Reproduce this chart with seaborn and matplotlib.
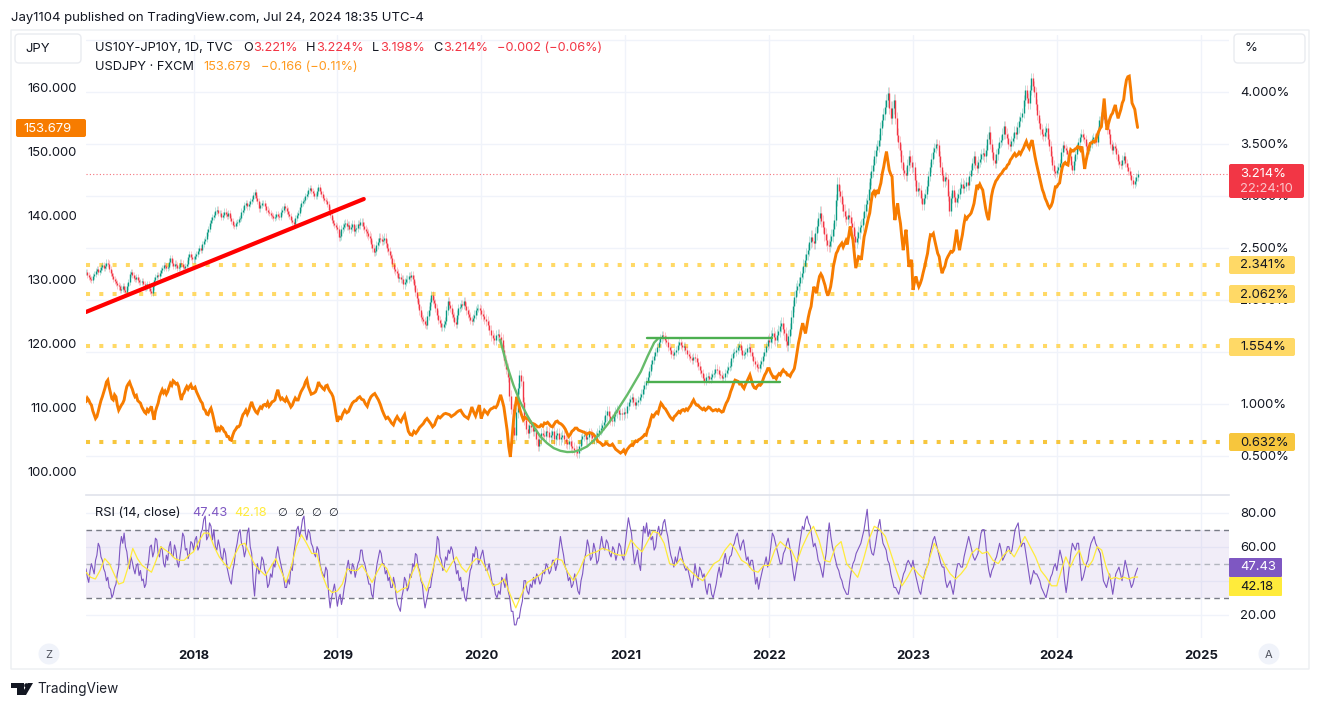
import pandas as pd
import seaborn as sns
import matplotlib.pyplot as plt
from matplotlib.patches import FancyBboxPatch, Circle, Polygon
from matplotlib.transforms import IdentityTransform

# values, one list per calendar year
year_edges = ['2017-04-03', '2018-01-01', '2019-01-01', '2020-01-01', '2021-01-01',
              '2022-01-01', '2023-01-01', '2024-01-01', '2024-07-24']

spread_2017 = [2.27, 2.24, 2.22, 2.20, 2.19, 2.23, 2.25, 2.28, 2.30, 2.27, 2.29, 2.32, 2.34, 2.31, 2.33, 2.36, 2.35, 2.30, 2.26, 2.23,
               2.20, 2.18, 2.16, 2.14, 2.13, 2.10, 2.11, 2.13, 2.10, 2.08, 2.13, 2.17, 2.25, 2.27, 2.24, 2.21, 2.20, 2.22, 2.19, 2.17,
               2.17, 2.18, 2.15, 2.12, 2.13, 2.15, 2.12, 2.09, 2.07, 2.13, 2.19, 2.22, 2.24, 2.23, 2.26, 2.29, 2.31, 2.34, 2.33, 2.31,
               2.32, 2.37, 2.40, 2.36, 2.33, 2.35, 2.34, 2.31, 2.32, 2.36, 2.35, 2.32, 2.31, 2.33, 2.35, 2.41, 2.44, 2.41, 2.39]
spread_2018 = [2.39, 2.42, 2.44, 2.47, 2.50, 2.48, 2.54, 2.57, 2.59, 2.65, 2.68, 2.74, 2.77, 2.80, 2.82, 2.86, 2.87, 2.84, 2.84, 2.80,
               2.82, 2.85, 2.83, 2.81, 2.84, 2.79, 2.76, 2.72, 2.71, 2.74, 2.75, 2.78, 2.79, 2.85, 2.87, 2.91, 2.93, 2.90, 2.92, 2.95,
               2.97, 3.01, 3.04, 2.98, 2.95, 2.88, 2.91, 2.93, 2.93, 2.90, 2.87, 2.85, 2.84, 2.82, 2.81, 2.79, 2.80, 2.83, 2.81, 2.80,
               2.85, 2.87, 2.90, 2.88, 2.86, 2.83, 2.81, 2.77, 2.75, 2.73, 2.79, 2.82, 2.84, 2.89, 2.93, 2.95, 2.96, 3.00, 3.02, 3.06,
               3.08, 3.05, 3.03, 3.00, 3.00, 3.05, 3.09, 3.05, 3.02, 2.98, 2.96, 2.95, 2.92, 2.87, 2.82, 2.77, 2.74, 2.72, 2.70]
spread_2019 = [2.68, 2.61, 2.62, 2.68, 2.70, 2.73, 2.74, 2.71, 2.72, 2.68, 2.70, 2.73, 2.66, 2.68, 2.69, 2.73, 2.72, 2.75, 2.75, 2.71,
               2.68, 2.66, 2.64, 2.62, 2.60, 2.54, 2.50, 2.46, 2.47, 2.53, 2.56, 2.60, 2.59, 2.57, 2.58, 2.60, 2.55, 2.50, 2.47, 2.43,
               2.40, 2.35, 2.30, 2.28, 2.26, 2.21, 2.22, 2.20, 2.20, 2.15, 2.17, 2.20, 2.20, 2.23, 2.22, 2.24, 2.20, 2.14, 2.08, 2.02,
               1.96, 1.90, 1.84, 1.82, 1.80, 1.77, 1.76, 1.85, 1.90, 1.98, 2.05, 2.00, 1.97, 1.92, 1.86, 1.81, 1.78, 1.74, 1.74, 1.77,
               1.80, 1.90, 1.99, 1.95, 1.92, 1.87, 1.84, 1.79, 1.77, 1.86, 1.92, 1.93, 1.96, 1.95, 1.99, 1.94, 1.90, 1.87, 1.84, 1.81,
               1.80, 1.83, 1.86, 1.90, 1.92, 1.92, 1.90]
spread_2020 = [1.87, 1.85, 1.82, 1.80, 1.76, 1.71, 1.66, 1.63, 1.62, 1.66, 1.67, 1.64, 1.62, 1.52, 1.42, 1.34, 1.26, 1.08, 0.95, 0.78,
               0.70, 0.92, 1.15, 1.28, 1.22, 1.02, 0.85, 0.76, 0.72, 0.80, 0.78, 0.74, 0.76, 0.66, 0.60, 0.66, 0.72, 0.70, 0.69, 0.74,
               0.73, 0.68, 0.70, 0.74, 0.66, 0.70, 0.72, 0.66, 0.68, 0.70, 0.66, 0.63, 0.62, 0.64, 0.60, 0.58, 0.56, 0.55, 0.53, 0.60,
               0.66, 0.69, 0.70, 0.66, 0.68, 0.72, 0.70, 0.67, 0.67, 0.69, 0.72, 0.75, 0.77, 0.80, 0.83, 0.89, 0.93, 0.88, 0.85, 0.84,
               0.88, 0.92, 0.94, 0.90, 0.91, 0.90, 0.92]
spread_2021 = [0.91, 0.98, 1.02, 1.05, 1.07, 1.02, 0.99, 1.02, 1.04, 1.07, 1.10, 1.14, 1.18, 1.22, 1.26, 1.32, 1.38, 1.42, 1.46, 1.50,
               1.55, 1.60, 1.63, 1.66, 1.65, 1.62, 1.60, 1.55, 1.52, 1.48, 1.47, 1.50, 1.52, 1.57, 1.60, 1.57, 1.55, 1.56, 1.52, 1.48,
               1.46, 1.44, 1.42, 1.45, 1.44, 1.40, 1.37, 1.33, 1.30, 1.25, 1.22, 1.26, 1.27, 1.24, 1.26, 1.29, 1.30, 1.34, 1.33, 1.29,
               1.28, 1.25, 1.26, 1.30, 1.33, 1.36, 1.37, 1.44, 1.49, 1.50, 1.52, 1.55, 1.57, 1.52, 1.47, 1.48, 1.50, 1.54, 1.55, 1.50,
               1.46, 1.41, 1.38, 1.36, 1.35, 1.38, 1.41, 1.46, 1.50, 1.56, 1.62]
spread_2022 = [1.60, 1.65, 1.68, 1.64, 1.62, 1.66, 1.70, 1.75, 1.78, 1.72, 1.68, 1.61, 1.57, 1.65, 1.72, 1.84, 1.94, 2.03, 2.10, 2.13,
               2.16, 2.22, 2.26, 2.33, 2.38, 2.44, 2.48, 2.56, 2.61, 2.57, 2.55, 2.64, 2.71, 2.79, 2.84, 2.76, 2.70, 2.63, 2.58, 2.53,
               2.52, 2.57, 2.62, 2.68, 2.77, 2.96, 3.12, 3.05, 3.00, 2.92, 2.86, 2.81, 2.78, 2.82, 2.80, 2.74, 2.70, 2.62, 2.56, 2.60,
               2.65, 2.70, 2.72, 2.79, 2.86, 2.92, 2.96, 3.07, 3.17, 3.24, 3.30, 3.38, 3.44, 3.48, 3.54, 3.65, 3.73, 3.79, 3.86, 3.92,
               3.99, 3.85, 3.75, 3.85, 3.92, 3.75, 3.59, 3.52, 3.44, 3.33, 3.25, 3.22, 3.20, 3.30, 3.38, 3.33, 3.28]
spread_2023 = [3.28, 3.15, 3.05, 3.08, 3.06, 2.98, 2.92, 2.98, 3.02, 3.10, 3.19, 3.28, 3.36, 3.42, 3.46, 3.50, 3.49, 3.38, 3.28, 3.20,
               3.14, 3.18, 3.16, 3.00, 2.86, 2.98, 3.06, 2.99, 2.94, 2.98, 3.02, 3.08, 3.12, 3.08, 3.10, 3.13, 3.11, 3.19, 3.25, 3.32,
               3.38, 3.30, 3.27, 3.33, 3.36, 3.40, 3.41, 3.38, 3.44, 3.55, 3.62, 3.50, 3.42, 3.35, 3.32, 3.40, 3.46, 3.52, 3.54, 3.60,
               3.67, 3.60, 3.56, 3.50, 3.48, 3.53, 3.56, 3.62, 3.60, 3.66, 3.72, 3.76, 3.80, 3.92, 4.02, 3.94, 3.89, 4.02, 4.13, 4.06,
               4.00, 3.88, 3.78, 3.70, 3.64, 3.60, 3.58, 3.62, 3.65, 3.55, 3.48, 3.38, 3.30, 3.24, 3.22]
spread_2024 = [3.25, 3.28, 3.32, 3.42, 3.49, 3.46, 3.44, 3.40, 3.38, 3.30, 3.25, 3.34, 3.40, 3.47, 3.52, 3.57, 3.60, 3.57, 3.55, 3.48,
               3.44, 3.47, 3.50, 3.55, 3.57, 3.54, 3.52, 3.63, 3.73, 3.77, 3.80, 3.74, 3.70, 3.64, 3.60, 3.50, 3.44, 3.48, 3.46, 3.40,
               3.34, 3.31, 3.30, 3.35, 3.38, 3.32, 3.28, 3.24, 3.20, 3.15, 3.12, 3.14, 3.18, 3.214]
spread_wick = [0.03, 0.03, 0.04, 0.05, 0.04, 0.06, 0.05, 0.04]

usdjpy_2017 = [110.8, 111.4, 111.1, 110.6, 110.3, 109.4, 108.8, 108.2, 108.5, 109.3, 110.2, 111.0, 111.6, 112.3, 113.0, 113.9, 114.2, 113.1, 112.2, 111.3,
               111.1, 111.9, 111.6, 110.3, 109.5, 109.9, 110.3, 110.6, 111.1, 112.3, 113.2, 113.6, 113.9, 113.3, 112.8, 112.1, 111.6, 111.8, 111.0, 110.8,
               110.6, 110.0, 109.6, 109.2, 109.0, 109.6, 109.3, 109.7, 110.1, 109.0, 108.0, 109.3, 110.0, 110.6, 111.6, 112.2, 112.7, 112.2, 112.5, 112.0,
               112.4, 113.1, 113.7, 113.4, 114.1, 113.9, 113.6, 113.7, 113.2, 112.0, 111.1, 111.9, 112.2, 112.8, 113.2, 112.8, 113.2, 113.5, 112.9]
usdjpy_2018 = [112.9, 113.1, 112.4, 111.9, 111.4, 110.9, 110.6, 109.7, 109.5, 108.9, 108.8, 109.4, 109.8, 109.0, 108.0, 106.9, 106.1, 106.7, 106.4, 106.9,
               106.7, 106.2, 106.0, 105.4, 105.4, 104.9, 104.8, 105.6, 106.2, 106.5, 106.9, 106.9, 107.2, 108.1, 108.8, 109.1, 109.5, 108.9, 109.4, 110.2,
               110.8, 110.1, 109.6, 109.2, 109.0, 109.6, 110.0, 109.8, 110.3, 110.4, 110.2, 110.7, 110.1, 110.4, 110.8, 110.9, 111.1, 112.0, 112.7, 111.8,
               111.2, 111.4, 111.1, 110.9, 111.4, 110.9, 110.5, 110.0, 110.3, 110.9, 111.4, 111.1, 111.1, 111.8, 112.4, 112.8, 113.2, 113.9, 114.3, 113.2,
               112.6, 112.0, 112.1, 112.2, 112.4, 113.0, 113.9, 113.4, 113.2, 112.9, 112.7, 113.3, 113.4, 112.8, 112.4, 112.1, 111.6, 110.5, 109.0]
usdjpy_2019 = [107.7, 108.4, 108.2, 109.0, 109.5, 109.1, 109.3, 110.0, 110.6, 110.9, 111.0, 111.4, 111.6, 111.2, 111.1, 110.5, 110.1, 111.0, 111.6, 111.9,
               112.1, 111.6, 111.1, 110.4, 109.5, 108.8, 108.2, 108.4, 108.0, 107.5, 107.2, 108.0, 108.5, 108.0, 107.7, 108.3, 108.8, 107.5, 106.2, 105.7,
               105.6, 106.2, 105.9, 106.3, 106.8, 107.1, 107.4, 107.9, 108.2, 107.8, 107.4, 106.9, 107.2, 108.0, 108.5, 108.3, 108.6, 108.9, 109.0, 108.9,
               108.8, 108.5, 108.7, 108.9, 109.2, 109.4, 109.5, 109.0, 108.6, 108.4, 108.2, 109.0, 110.0, 109.2, 108.6, 109.5, 110.3]
usdjpy_2020 = [108.2, 108.9, 109.5, 109.2, 108.9, 109.4, 109.7, 109.8, 110.0, 109.9, 110.3, 111.1, 111.9, 111.0, 110.0, 108.2, 106.4, 103.8, 102.2, 105.0,
               108.0, 110.0, 111.6, 110.6, 109.5, 108.7, 108.0, 108.4, 108.2, 108.1, 107.8, 107.5, 107.4, 107.3, 107.1, 106.9, 106.9, 107.2, 107.0, 107.5,
               107.4, 107.6, 107.3, 107.0, 106.9, 107.3, 107.7, 107.8, 107.5, 107.4, 107.2, 106.9, 106.5, 105.9, 105.4, 105.7, 106.2, 106.4, 106.7, 106.7,
               106.4, 106.3, 106.2, 106.1, 106.0, 105.7, 105.9, 106.0, 105.9, 105.8, 105.5, 105.2, 104.6, 104.5, 104.3, 104.0, 104.1, 104.4, 104.2, 104.0,
               104.0, 104.2, 103.8, 103.4, 103.2, 103.0, 102.8, 103.0, 103.3]
usdjpy_2021 = [102.8, 103.3, 103.6, 103.9, 104.1, 104.0, 104.4, 104.7, 104.6, 104.9, 105.0, 105.2, 105.4, 105.7, 105.6, 106.5, 107.0, 108.0, 108.7, 108.5,
               108.9, 109.2, 109.0, 109.9, 110.6, 110.3, 109.9, 109.7, 109.3, 108.9, 108.5, 108.2, 108.0, 108.5, 108.7, 109.0, 109.3, 109.1, 109.5, 109.6,
               109.4, 109.7, 109.5, 109.9, 110.2, 110.7, 111.1, 110.6, 110.3, 110.3, 110.0, 109.8, 109.6, 109.8, 109.5, 109.7, 110.0, 109.9, 109.6, 109.4,
               109.5, 109.6, 109.4, 109.6, 109.4, 109.2, 109.3, 110.0, 110.6, 111.0, 111.6, 112.4, 113.0, 113.7, 114.2, 114.1, 114.0, 113.6, 113.7, 113.2,
               112.9, 113.5, 114.0, 114.5, 115.0, 114.2, 113.4, 113.0, 112.9, 113.3, 113.5, 113.4, 113.7, 114.4, 115.0, 115.4, 116.0]
usdjpy_2022 = [116.0, 115.4, 115.0, 114.6, 114.7, 114.4, 114.9, 115.2, 115.0, 115.5, 115.8, 115.5, 115.4, 115.0, 115.0, 114.8, 115.3, 115.6, 116.0, 117.2,
               118.6, 120.0, 121.0, 122.2, 123.1, 122.2, 121.5, 122.8, 124.0, 125.0, 125.7, 127.4, 128.8, 128.2, 127.8, 129.3, 130.4, 130.8, 130.4, 129.7,
               129.0, 128.0, 127.4, 128.0, 128.8, 130.2, 132.0, 133.0, 134.0, 134.4, 135.0, 135.3, 135.6, 135.0, 135.5, 136.0, 135.4, 136.8, 138.2, 137.0,
               136.1, 133.9, 131.7, 132.6, 133.5, 133.4, 133.0, 134.8, 136.6, 137.5, 138.5, 139.5, 140.3, 142.0, 143.4, 143.7, 143.2, 143.9, 143.3, 144.2,
               145.0, 146.5, 147.5, 148.8, 149.9, 148.4, 147.0, 146.4, 146.0, 142.0, 139.2, 140.6, 141.8, 140.0, 138.7, 136.5, 134.5, 136.2, 137.7, 135.0,
               131.9, 132.5, 133.0]
usdjpy_2023 = [128.3, 129.5, 130.4, 129.5, 128.8, 129.3, 130.0, 131.0, 131.9, 133.0, 134.0, 135.7, 136.9, 136.8, 137.1, 136.0, 135.0, 134.0, 133.5, 132.0,
               130.9, 131.5, 132.0, 133.0, 133.5, 133.9, 134.3, 134.2, 134.5, 136.0, 137.7, 135.8, 134.5, 135.8, 136.9, 138.5, 139.7, 139.4, 139.8, 140.0,
               140.3, 141.0, 141.8, 143.2, 144.7, 144.3, 144.8, 144.3, 143.9, 142.5, 141.0, 139.9, 139.2, 141.0, 142.9, 144.0, 144.7, 145.3, 145.6, 146.0,
               146.3, 146.5, 146.9, 147.2, 147.3, 147.8, 148.0, 148.6, 148.9, 149.3, 149.6, 149.2, 149.4, 149.8, 149.5, 150.0, 150.4, 151.0, 151.5, 150.8,
               150.4, 151.2, 151.7, 150.4, 149.1, 148.0, 147.0, 146.0, 145.0, 144.0, 143.4, 142.6, 142.1, 141.5, 141.1, 141.4, 142.0, 143.2, 144.4]
usdjpy_2024 = [144.4, 144.8, 145.0, 146.4, 147.5, 148.0, 148.2, 147.9, 147.8, 149.2, 150.2, 150.0, 150.0, 150.3, 150.4, 150.7, 150.6, 150.2, 150.7, 149.0,
               147.2, 148.5, 149.5, 150.5, 151.2, 151.3, 151.5, 151.4, 151.7, 152.5, 153.0, 153.5, 153.8, 156.0, 158.2, 155.5, 153.3, 154.2, 155.0, 155.6,
               155.9, 156.6, 157.2, 156.0, 155.1, 155.8, 156.5, 157.5, 158.0, 159.8, 161.1, 161.6, 161.7, 159.8, 157.5, 157.0, 156.5, 155.0, 153.679]

rsi_2017 = [47, 42, 39, 46, 50, 47, 44, 52, 55, 62, 60, 54, 52, 47, 45, 40, 42, 36, 35, 30, 32, 36, 38, 44, 48, 60, 66, 62, 68, 60, 57, 50, 47, 54, 51, 47, 44, 49, 50, 43,
            46, 40, 41, 36, 38, 47, 52, 60, 61, 54, 57, 65, 64, 56, 54, 60, 58, 50, 48, 55, 52, 60, 63, 55, 54, 61, 58, 51, 48, 54, 60, 68, 66, 58, 59, 53, 56, 63, 62]
rsi_2018 = [58, 64, 66, 58, 60, 68, 70, 76, 78, 64, 66, 74, 72, 64, 70, 60, 58, 64, 60, 54, 52, 59, 56, 48, 44, 40, 38, 46, 50, 58, 62, 68, 70, 62, 60, 54, 58, 68, 71, 60,
            56, 40, 31, 44, 50, 44, 47, 54, 52, 46, 44, 36, 38, 44, 42, 50, 48, 56, 60, 54, 50, 46, 42, 36, 36, 41, 38, 48, 46, 56, 62, 70, 72, 66, 70, 76, 78, 68, 64, 70,
            68, 62, 60, 56, 54, 60, 58, 50, 46, 44, 42, 48, 46, 32, 24, 30, 34, 38, 32]
rsi_2019 = [25, 30, 32, 26, 30, 36, 40, 48, 52, 46, 44, 50, 48, 42, 46, 50, 52, 58, 58, 52, 50, 46, 42, 38, 38, 32, 30, 38, 44, 50, 54, 58, 56, 50, 50, 44, 46, 40, 42, 36,
            36, 42, 38, 30, 26, 24, 22, 30, 34, 42, 40, 34, 36, 44, 42, 50, 48, 56, 55, 48, 46, 40, 38, 30, 24, 28, 32, 36, 36, 42, 46, 52, 56, 66, 64, 54, 52, 46, 48, 54,
            52, 58, 56, 60, 58, 52, 50, 44, 46, 40, 42, 34, 36, 30, 28, 34, 40, 46, 48, 56, 54, 60, 58, 50, 52]
rsi_2020 = [55, 58, 52, 46, 46, 50, 44, 38, 38, 32, 30, 34, 32, 42, 40, 36, 44, 34, 30, 22, 22, 14, 14, 18, 18, 24, 28, 40, 40, 34, 32, 38, 36, 42, 38, 44, 42, 38, 40, 46,
            44, 50, 48, 44, 46, 52, 52, 46, 50, 58, 66, 60, 55, 48, 46, 40, 42, 36, 38, 44, 40, 34, 32, 40, 44, 52, 56, 64, 60, 52, 54, 62, 58, 50, 52, 60, 66, 60, 58, 64,
            62, 56, 54, 60, 58, 52, 56, 62, 60, 54, 52]
rsi_2021 = [62, 70, 77, 72, 68, 58, 50, 54, 58, 50, 46, 60, 72, 68, 74, 66, 70, 64, 66, 58, 60, 68, 72, 66, 68, 74, 76, 70, 66, 60, 55, 52, 48, 54, 50, 56, 60, 56, 52, 48,
            46, 48, 44, 40, 36, 42, 50, 44, 40, 48, 46, 42, 44, 36, 32, 38, 38, 32, 30, 34, 38, 44, 48, 42, 46, 52, 56, 50, 50, 54, 55, 60, 62, 66, 68, 62, 58, 62, 64, 58,
            52, 54, 48, 52, 52, 46, 38, 42, 35, 40, 44, 48, 50, 54, 48]
rsi_2022 = [52, 60, 68, 66, 62, 58, 54, 50, 50, 56, 58, 62, 65, 60, 54, 46, 40, 46, 52, 60, 66, 72, 70, 76, 78, 74, 72, 66, 60, 62, 58, 52, 50, 46, 42, 50, 56, 66, 74, 66,
            60, 56, 52, 48, 46, 42, 40, 36, 34, 32, 32, 40, 46, 50, 52, 56, 58, 60, 62, 66, 70, 76, 82, 70, 60, 56, 55, 60, 66, 72, 76, 68, 62, 60, 58, 52, 50, 44, 40, 36,
            36, 34, 32, 36, 40, 44, 46, 50, 52, 50, 48]
rsi_2023 = [52, 46, 42, 38, 34, 32, 38, 42, 46, 48, 50, 56, 60, 64, 66, 62, 58, 54, 50, 48, 48, 40, 36, 38, 40, 36, 32, 38, 46, 50, 50, 48, 48, 54, 58, 62, 66, 62, 58, 54,
            52, 54, 56, 62, 68, 70, 70, 62, 52, 46, 42, 46, 48, 52, 54, 58, 62, 58, 52, 54, 56, 60, 60, 56, 58, 64, 70, 72, 74, 66, 60, 62, 62, 56, 50, 44, 38, 42, 46, 44,
            44, 42, 40, 36, 34, 32, 30, 34, 38, 42, 44, 48, 50]
rsi_2024 = [46, 52, 58, 54, 50, 40, 33, 40, 48, 56, 62, 60, 58, 62, 62, 50, 40, 42, 46, 50, 52, 58, 62, 64, 66, 62, 60, 58, 56, 48, 40, 38, 36, 40, 44, 38, 32, 38, 44, 46,
            48, 44, 40, 46, 52, 48, 44, 40, 36, 38, 42, 45, 47.43]

signal_2017 = [45, 42, 41, 46, 53, 50, 44, 38, 39, 48, 59, 53, 49, 47, 45, 52, 60, 58, 56, 53, 52, 52, 55]
signal_2018 = [57, 63, 68, 68, 60, 54, 50, 47, 55, 61, 62, 55, 49, 46, 43, 48, 53, 46, 39, 48, 60, 67, 62, 56, 56, 44, 36, 33]
signal_2019 = [34, 38, 47, 46, 46, 49, 44, 39, 45, 50, 47, 40, 33, 35, 36, 44, 50, 40, 34, 44, 55, 49, 45, 50, 54, 48, 45, 50, 53]
signal_2020 = [52, 46, 37, 38, 41, 32, 24, 32, 39, 41, 43, 46, 48, 53, 52, 45, 40, 46, 54, 56, 57, 59, 58, 56, 55]
signal_2021 = [55, 64, 60, 57, 63, 69, 68, 62, 50, 49, 53, 48, 45, 42, 40, 45, 50, 52, 58, 62, 58, 52, 50, 46, 45, 49]
signal_2022 = [49, 58, 63, 60, 58, 51, 60, 67, 72, 64, 52, 51, 60, 63, 50, 46, 42, 52, 64, 72, 70, 66, 56, 46, 37, 42]
signal_2023 = [48, 44, 41, 52, 62, 56, 49, 44, 41, 44, 48, 56, 59, 56, 57, 52, 50, 55, 58, 54, 60, 66, 60, 54, 46, 42, 37]
signal_2024 = [37, 46, 54, 48, 54, 58, 50, 48, 52, 60, 58, 48, 41, 42, 41, 42, 41, 42, 42.18]

# drawings on the chart
trend_dates = ['2017-04-03', '2019-03-09']
trend_values = [1.885, 2.971]
cup_dates = ['2020-02-18', '2020-03-06', '2020-03-23', '2020-04-09', '2020-04-26', '2020-05-13', '2020-05-30', '2020-06-16',
             '2020-07-03', '2020-07-20', '2020-08-06', '2020-08-23', '2020-09-09', '2020-09-26', '2020-10-13', '2020-10-30',
             '2020-11-16', '2020-12-03', '2020-12-20', '2021-01-06', '2021-01-23', '2021-02-09', '2021-02-26', '2021-03-15', '2021-03-25']
cup_values = [1.62, 1.376, 1.18, 1.02, 0.896, 0.784, 0.688, 0.624, 0.576, 0.55, 0.538, 0.54, 0.56, 0.592, 0.65, 0.72, 0.80,
              0.886, 0.99, 1.09, 1.2, 1.31, 1.456, 1.59, 1.63]
channel_start = '2021-02-25'
channel_top = 1.635
channel_top_end = '2022-01-08'
channel_low = 1.214
channel_low_end = '2022-01-28'
level_values = [2.341, 2.062, 1.554, 0.632]
level_colors = ['#ffd966', '#ffd966', '#ffd966', '#f7c63d']
last_spread = 3.214

pct_ticks = [0.5, 1.0, 1.5, 2.0, 2.5, 3.0, 3.5, 4.0, 4.5]
pct_hidden = [1.5, 4.5]
jpy_ticks = [100, 110, 120, 130, 140, 150, 160]
rsi_ticks = [20, 40, 60, 80]
rsi_hidden = [40]
year_ticks = ['2018', '2019', '2020', '2021', '2022', '2023', '2024', '2025']

W, H = 1320, 708
TEAL, RED, ORANGE, PURPLE, YELLOW = '#089981', '#f23645', '#f77c00', '#7e57c2', '#ffeb3b'
TXT = '#131722'
GRID = '#f0f3fa'


def by_year(chunks):
    # each year's readings are spaced evenly inside that year
    frames = []
    for i, vals in enumerate(chunks):
        last = i == len(chunks) - 1
        d = pd.date_range(year_edges[i], year_edges[i + 1], periods=len(vals) + (0 if last else 1))
        frames.append(pd.DataFrame({'date': d[:len(vals)], 'value': vals, 'year': i}))
    return pd.concat(frames, ignore_index=True)


def ptext(x, y, s, **kw):
    kw.setdefault('fontsize', 9.4)
    kw.setdefault('color', TXT)
    kw.setdefault('va', 'center')
    kw.setdefault('zorder', 12)
    return fig.text(x / W, 1 - y / H, s, **kw)


def pbox(x0, y0, x1, y1, fc, ec='none', r=2, zorder=10, lw=1):
    box = FancyBboxPatch((x0, H - y1), x1 - x0, y1 - y0, boxstyle=f'round,pad=0,rounding_size={r}',
                         fc=fc, ec=ec, lw=lw, transform=IdentityTransform(), zorder=zorder)
    fig.add_artist(box)


def paxes(x0, y0, x1, y1):
    return fig.add_axes([x0 / W, 1 - y1 / H, (x1 - x0) / W, (y1 - y0) / H])


sns.set_theme(style='white')
plt.rcParams['font.family'] = ['Inter', 'DejaVu Sans']

fig = plt.figure(figsize=(W / 100, H / 100), dpi=100, facecolor='white')
pbox(11, 30, 1309, 669, 'none', ec='#eceef2', r=0, zorder=0)

xmin, xmax = pd.Timestamp('2017-04-03'), pd.Timestamp('2025-03-13')
year_dates = [pd.Timestamp(y + '-01-01') for y in year_ticks]

ax_pct = paxes(86, 35, 1229, 495)
ax_pct.patch.set_alpha(0)
ax_pct.set_ylim(0.125, 4.548)
ax_pct.set_xlim(xmin, xmax)

for val, col in zip(level_values, level_colors):
    ax_pct.axhline(val, color=col, lw=2.9, ls=(0, (1, 2.3)), dash_capstyle='butt', zorder=2)
ax_pct.axhline(last_spread, color=RED, lw=0.8, ls=(0, (1, 2)), alpha=0.7, zorder=2)

# candles: open is the previous reading
spread = by_year([spread_2017, spread_2018, spread_2019, spread_2020, spread_2021, spread_2022, spread_2023, spread_2024])
spread['open'] = spread['value'].shift(1).fillna(spread['value'])
spread['wick'] = spread['year'].map(lambda i: spread_wick[i])
spread['hi'] = spread[['open', 'value']].max(axis=1) + spread['wick']
spread['lo'] = spread[['open', 'value']].min(axis=1) - spread['wick']
up = spread[spread['value'] >= spread['open']]
down = spread[spread['value'] < spread['open']]
for part, col in [(up, TEAL), (down, RED)]:
    ax_pct.vlines(part['date'], part['lo'], part['hi'], color=col, lw=0.5, alpha=0.4, zorder=3)
    ax_pct.vlines(part['date'], part['open'], part['value'], color=col, lw=1.0, zorder=4)

ax_pct.set_yticks(pct_ticks)
ax_pct.set_yticklabels(['' if v in pct_hidden else f'{v:.3f}%' for v in pct_ticks])
ax_pct.tick_params(axis='y', length=0, pad=8, labelsize=9.4, labelcolor=TXT)
ax_pct.set_xticks(year_dates)
ax_pct.tick_params(axis='x', length=0, labelbottom=False)
ax_pct.grid(True, color=GRID, lw=1)
ax_pct.set_axisbelow(True)

ax_jpy = ax_pct.twinx()
ax_jpy.patch.set_alpha(0)
usdjpy = by_year([usdjpy_2017, usdjpy_2018, usdjpy_2019, usdjpy_2020, usdjpy_2021, usdjpy_2022, usdjpy_2023, usdjpy_2024])
sns.lineplot(data=usdjpy, x='date', y='value', ax=ax_jpy, color=ORANGE, lw=2.1, estimator=None, legend=False,
             solid_joinstyle='miter')
ax_jpy.set_ylim(96.25, 168.125)
ax_jpy.set_yticks(jpy_ticks)
ax_jpy.set_yticklabels([f'{v}.000' for v in jpy_ticks])
ax_jpy.yaxis.tick_left()
ax_jpy.tick_params(axis='y', length=0, pad=6.5, labelsize=9.4, labelcolor=TXT)
ax_jpy.grid(False)
ax_jpy.set_xlabel('')
ax_jpy.set_ylabel('')

ax_draw = ax_pct.twinx()
ax_draw.patch.set_alpha(0)
ax_draw.set_ylim(ax_pct.get_ylim())
ax_draw.axis('off')
# twinx moves the host's ticks to the left, put them back
ax_pct.yaxis.tick_right()
trend = pd.DataFrame({'date': pd.to_datetime(trend_dates), 'value': trend_values})
cup = pd.DataFrame({'date': pd.to_datetime(cup_dates), 'value': cup_values})
sns.lineplot(data=trend, x='date', y='value', ax=ax_draw, color='#ff0000', lw=3, estimator=None, legend=False,
             solid_capstyle='round')
sns.lineplot(data=cup, x='date', y='value', ax=ax_draw, color='#66bb6a', lw=1.7, estimator=None, legend=False)
ax_draw.plot(pd.to_datetime([channel_start, channel_top_end]), [channel_top, channel_top], color='#4caf50', lw=1.7)
ax_draw.plot(pd.to_datetime([channel_start, channel_low_end]), [channel_low, channel_low], color='#4caf50', lw=1.7)
ax_draw.set_xlim(xmin, xmax)

for ax in (ax_pct, ax_jpy, ax_draw):
    for side in ax.spines:
        ax.spines[side].set_visible(False)

ax_rsi = paxes(86, 495, 1229, 638)
ax_rsi.axhspan(30, 70, color=PURPLE, alpha=0.1, lw=0)
for lvl, col in [(70, '#787b86'), (30, '#787b86'), (50, '#b2b5be')]:
    ax_rsi.axhline(lvl, color=col, lw=1, ls=(0, (4, 3)))
rsi = by_year([rsi_2017, rsi_2018, rsi_2019, rsi_2020, rsi_2021, rsi_2022, rsi_2023, rsi_2024])
signal = by_year([signal_2017, signal_2018, signal_2019, signal_2020, signal_2021, signal_2022, signal_2023, signal_2024])
sns.lineplot(data=rsi, x='date', y='value', ax=ax_rsi, color=PURPLE, lw=0.8, estimator=None, legend=False)
sns.lineplot(data=signal, x='date', y='value', ax=ax_rsi, color=YELLOW, lw=0.9, estimator=None, legend=False)
ax_rsi.set_xlim(xmin, xmax)
ax_rsi.set_ylim(6.3, 90.4)
ax_rsi.set_yticks(rsi_ticks)
ax_rsi.set_yticklabels(['' if v in rsi_hidden else f'{v}.00' for v in rsi_ticks])
ax_rsi.yaxis.tick_right()
ax_rsi.set_xticks(year_dates)
ax_rsi.set_xticklabels(year_ticks, fontweight='bold')
ax_rsi.tick_params(axis='y', length=0, pad=8, labelsize=9.4, labelcolor=TXT)
ax_rsi.tick_params(axis='x', length=0, pad=8.5, labelsize=9.4, labelcolor=TXT)
ax_rsi.grid(True, color=GRID, lw=1)
ax_rsi.set_axisbelow(True)
ax_rsi.set_xlabel('')
ax_rsi.set_ylabel('')
for side in ax_rsi.spines:
    ax_rsi.spines[side].set_visible(False)
ax_rsi.spines['top'].set_visible(True)
ax_rsi.spines['top'].set_color('#e0e3eb')
ax_rsi.spines['top'].set_linewidth(1.2)

# price tags and buttons
pbox(16, 119, 86, 137, '#f77c00')
ptext(23, 128.5, '153.679', color='white')
pbox(1229, 164, 1304, 198, '#f23645')
ptext(1240, 174, '3.214%', color='white')
ptext(1240, 189, '22:24:10', color='#fbc5cb')
for val, yy, col in zip(level_values, [265, 294, 347, 442], level_colors):
    pbox(1229, yy - 9, 1295, yy + 9, col)
    ptext(1240, yy + 0.5, f'{val:.3f}%')
pbox(1229, 558, 1282, 577, PURPLE, r=1)
ptext(1240, 567.5, '47.43', color='white')
pbox(1229, 577, 1282, 596, YELLOW, r=1)
ptext(1240, 586.5, '42.18')
pbox(15, 34, 81, 63, 'white', ec='#e9ebf0', r=4)
ptext(25, 49, 'JPY')
pbox(1234, 34, 1305, 63, 'white', ec='#e9ebf0', r=4)
ptext(1245, 48, '%')

# header text
ptext(11, 18, 'Jay1104 published on TradingView.com, Jul 24, 2024 18:35 UTC-4', fontsize=9.45)
row = [(95, 'US10Y-JP10Y, 1D, TVC', TXT), (243, 'O', TXT), (253, '3.221%', RED), (306, 'H', TXT), (316, '3.224%', RED),
       (372, 'L', TXT), (380, '3.198%', RED), (433, 'C', TXT), (443, '3.214%', RED), (497, '\u22120.002 (\u22120.06%)', RED)]
for x, s, col in row:
    ptext(x, 48, s, color=col, fontsize=9.2)
row = [(95, 'USDJPY \u00b7 FXCM', TXT), (203, '153.679', '#ff9a1f'), (261, '\u22120.166 (\u22120.11%)', '#ff9a1f')]
for x, s, col in row:
    ptext(x, 66.5, s, color=col, fontsize=9.2)
ptext(95, 513.5, 'RSI (14, close)', fontsize=9.2)
ptext(192, 513.5, '47.43', color=PURPLE, fontsize=9.2)
ptext(234, 513.5, '42.18', color=YELLOW, fontsize=9.2)
for x in [277, 294, 311, 328]:
    ptext(x, 513.5, '\u2205', fontsize=8, family='DejaVu Sans')

for x, s in [(49, 'Z'), (1269, 'A')]:
    fig.add_artist(Circle((x, H - 654), 10.5, fc=GRID, ec='none', transform=IdentityTransform(), zorder=10))
    ptext(x, 654.5, s, ha='center', color='#50535e', fontsize=8)

# TradingView logo
logo = [[(11, 683), (24, 683), (24, 695), (17, 695), (17, 688), (11, 688)], [(26, 695), (33, 683), (28, 683), (21, 695)]]
for pts in logo:
    fig.add_artist(Polygon([(x, H - y) for x, y in pts], fc=TXT, ec='none', transform=IdentityTransform(), zorder=10))
fig.add_artist(Circle((26.5, H - 685.5), 2.3, fc=TXT, ec='none', transform=IdentityTransform(), zorder=10))
ptext(37, 689, 'TradingView', fontsize=9.8, color='#1e222d')

plt.savefig('out.png', dpi=100)
